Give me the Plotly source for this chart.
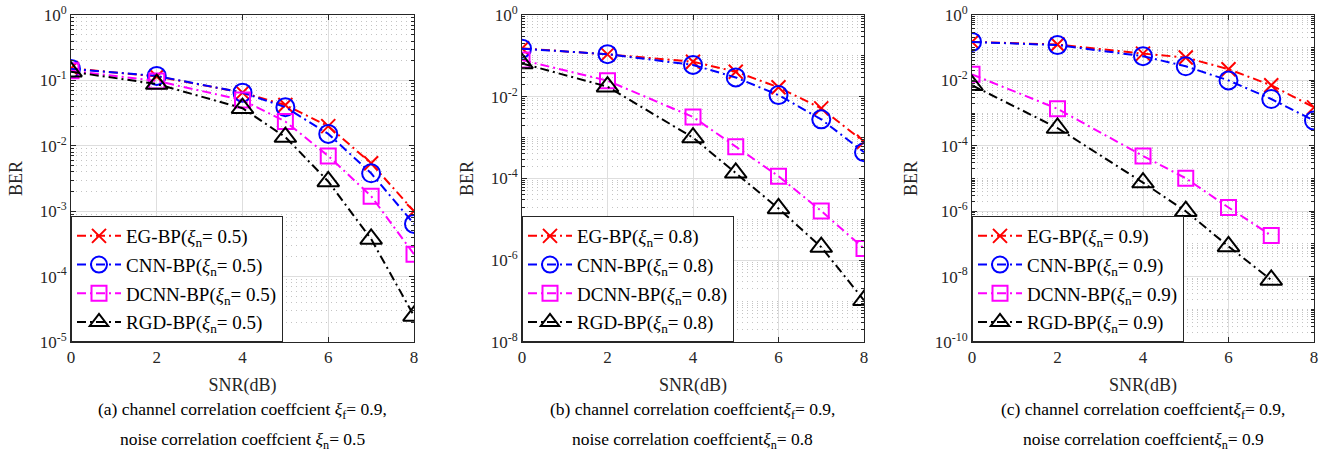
import plotly.graph_objects as go
import numpy as np

# ---------------- data ----------------
snr = [0, 2, 4, 5, 6, 7, 8]
snr_short = [0, 2, 4, 5, 6, 7]

eg_a = [0.153, 0.115, 0.065, 0.042, 0.020, 0.0054, 0.001]
cnn_a = [0.150, 0.117, 0.065, 0.039, 0.0152, 0.0038, 0.00064]
dcnn_a = [0.141, 0.098, 0.050, 0.0235, 0.0070, 0.0017, 0.00022]
rgd_a = [0.136, 0.088, 0.0376, 0.0136, 0.00285, 0.000376, 2.5e-5]

eg_b = [0.153, 0.109, 0.072, 0.041, 0.017, 0.0052, 0.00079]
cnn_b = [0.150, 0.110, 0.060, 0.0297, 0.011, 0.0028, 0.00044]
dcnn_b = [0.079, 0.0247, 0.0032, 0.0006, 0.000114, 1.6e-5, 1.94e-6]
rgd_b = [0.0655, 0.0176, 0.001, 0.000138, 1.85e-5, 2.1e-6, 1.05e-7]

eg_c = [0.151, 0.125, 0.066, 0.050, 0.022, 0.0071, 0.0015]
cnn_c = [0.150, 0.120, 0.055, 0.027, 0.010, 0.0027, 0.00059]
dcnn_c = [0.0153, 0.00135, 4.9e-5, 1.02e-5, 1.3e-6, 1.8e-7]
rgd_c = [0.0071, 0.00035, 7.5e-6, 1.0e-6, 8.4e-8, 7.9e-9]

xi_n = ["0.5", "0.8", "0.9"]
x_ticks = [0, 2, 4, 6, 8]
y_min_exp = [-5, -8, -10]
y_major_step = [1, 2, 2]
captions = [
    ("(a) channel correlation coeffcient <i>ξ</i><sub>f</sub>= 0.9,",
     "noise correlation coeffcient <i>ξ</i><sub>n</sub>= 0.5"),
    ("(b) channel correlation coeffcient<i>ξ</i><sub>f</sub>= 0.9,",
     "noise correlation coeffcient<i>ξ</i><sub>n</sub>= 0.8"),
    ("(c) channel correlation coeffcient<i>ξ</i><sub>f</sub>= 0.9,",
     "noise correlation coeffcient<i>ξ</i><sub>n</sub>= 0.9"),
]

panels = [
    [(snr, eg_a), (snr, cnn_a), (snr, dcnn_a), (snr, rgd_a)],
    [(snr, eg_b), (snr, cnn_b), (snr, dcnn_b), (snr, rgd_b)],
    [(snr, eg_c), (snr, cnn_c), (snr_short, dcnn_c), (snr_short, rgd_c)],
]
names = ["EG-BP", "CNN-BP", "DCNN-BP", "RGD-BP"]
colors = ["#FF0000", "#0000FF", "#FF00FF", "#000000"]
symbols = ["x-thin-open", "circle-open", "square-open", "triangle-up-open"]
msizes = [14, 18, 15, 19]

W, H = 1333, 464
FONT = "Liberation Serif, Times New Roman, serif"
AX = "#262626"

x_dom_px = [(71, 414), (522, 864), (972, 1314)]
y_dom_px = (15, 342)
ydom = [1 - y_dom_px[1] / H, 1 - y_dom_px[0] / H]

fig = go.Figure()
layout = dict(
    width=W, height=H, paper_bgcolor="white", plot_bgcolor="white",
    margin=dict(l=0, r=0, t=0, b=0),
    font=dict(family=FONT, size=17, color=AX),
    showlegend=True,
    annotations=[],
)

for p in range(3):
    sfx = "" if p == 0 else str(p + 1)
    xa, ya = "x" + sfx, "y" + sfx
    for s in range(4):
        xs, ys = panels[p][s]
        fig.add_trace(go.Scatter(
            x=xs, y=ys, mode="lines+markers",
            name=f"{names[s]}(<i>ξ</i><sub>n</sub>= {xi_n[p]})",
            line=dict(color=colors[s], width=2, dash="9px,4px,2px,4px"),
            marker=dict(symbol=symbols[s], size=msizes[s], color=colors[s],
                        line=dict(color=colors[s], width=2)),
            xaxis=xa, yaxis=ya, legend="legend" + sfx, legendgroup=f"g{p}{s}",
        ))

    lo = y_min_exp[p]
    step = y_major_step[p]
    major = [10.0 ** e for e in range(lo, 1, step)]
    major_txt = [f"10<sup>{e}</sup>" for e in range(lo, 1, step)]
    minor = []
    for e in range(lo, 0):
        for k in range(1, 10):
            v = k * 10.0 ** e
            if k == 1 and (e - lo) % step == 0:
                continue
            minor.append(v)

    x0, x1 = x_dom_px[p]
    layout["xaxis" + sfx] = dict(
        domain=[x0 / W, x1 / W], anchor=ya, range=[0, 8],
        tickmode="array", tickvals=x_ticks, ticktext=[str(v) for v in x_ticks],
        ticks="inside", ticklen=5, tickcolor=AX, mirror="ticks",
        showline=True, linecolor=AX, linewidth=1,
        showgrid=True, gridcolor="#DEDEDE", gridwidth=1,
        zeroline=False, tickfont=dict(size=17, family=FONT, color=AX),
        title=dict(text="SNR(dB)", font=dict(size=18, family=FONT, color=AX), standoff=11),
        automargin=False,
    )
    layout["yaxis" + sfx] = dict(
        domain=ydom, anchor=xa, type="log", range=[lo, 0],
        tickmode="array", tickvals=major, ticktext=major_txt,
        ticks="inside", ticklen=5, tickcolor=AX, mirror="ticks",
        showline=True, linecolor=AX, linewidth=1,
        showgrid=True, gridcolor="#DEDEDE", gridwidth=1,
        zeroline=False, tickfont=dict(size=17, family=FONT, color=AX),
        minor=dict(tickmode="array", tickvals=minor, ticks="inside", ticklen=3,
                   tickcolor=AX, showgrid=True, gridcolor="#C4C4C4",
                   griddash="1px,4px", gridwidth=1),
        title=dict(text="BER", font=dict(size=18, family=FONT, color=AX), standoff=12),
        automargin=False,
    )
    layout["legend" + sfx] = dict(
        x=x0 / W, y=ydom[0], xanchor="left", yanchor="bottom",
        xref="paper", yref="paper",
        bgcolor="white", bordercolor=AX, borderwidth=1,
        font=dict(size=19, family=FONT, color="#000000"),
        traceorder="grouped", tracegroupgap=1, itemwidth=44,
    )
    cx = (x0 + x1) / 2 / W
    layout["annotations"].append(dict(
        text=captions[p][0], x=cx, y=1 - 410 / H, xref="paper", yref="paper",
        xanchor="center", yanchor="middle", showarrow=False,
        font=dict(size=17.5, family=FONT, color="#000000")))
    layout["annotations"].append(dict(
        text=captions[p][1], x=cx, y=1 - 440 / H, xref="paper", yref="paper",
        xanchor="center", yanchor="middle", showarrow=False,
        font=dict(size=17.5, family=FONT, color="#000000")))

fig.update_layout(**layout)
fig.write_html("out.html", config={"displayModeBar": False},
               post_script="document.body.style.margin='0';")
